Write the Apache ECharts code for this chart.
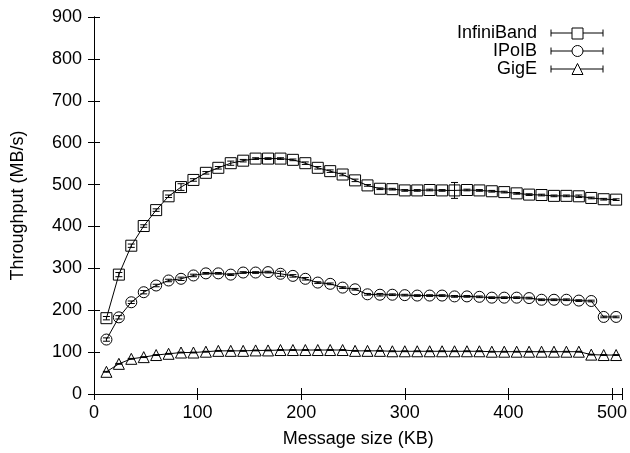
<!DOCTYPE html>
<html>
<head>
<meta charset="utf-8">
<script src="https://cdn.jsdelivr.net/npm/echarts@6/dist/echarts.min.js"></script>
<style>html,body{margin:0;padding:0;background:#fff}#c{width:630px;height:453px}</style>
</head>
<body>
<div id="c"></div>
<script>
var messageSizes = [12,24,36,48,60,72,84,96,108,120,132,144,156,168,180,192,204,216,228,240,252,264,276,288,300,312,324,336,348,360,372,384,396,408,420,432,444,456,468,480,492,504];
var infinibandValues = [181,285,354,401,439,472,494,511,528,540,551,557,562,562,562,559,551,540,532,524,510,498,490,489,486,486,487,486,486,487,486,484,482,479,476,475,473,473,472,468,465,464];
var infinibandErrors = [4,5,4,3,3,3,8,3,3,3,5,3,2,2,2,2,3,3,3,3,3,2,2,2,2,2,2,2,19,2,2,2,2,2,2,2,2,2,3,2,2,2];
var ipoibValues = [130,183,219,243,259,271,275,283,288,288,285,290,290,291,287,282,275,266,263,254,250,238,237,237,236,235,235,235,233,233,232,230,230,230,229,225,225,225,223,222,184,184];
var ipoibErrors = [4,4,3,4,3,3,4,3,2,2,2,2,2,2,6,3,3,2,2,2,2,2,3,2,2,2,2,2,2,2,2,2,2,2,2,2,2,2,2,2,2,2];
var gigeValues = [53,72,84,88,93,96,99,99,101,103,103,103,104,104,105,105,105,105,105,105,103,103,103,102,102,102,102,102,102,102,102,101,101,101,101,101,101,101,101,94,93,93];
var gigeErrors = [1,1,1,1,1,1,1,1,1,1,1,1,1,1,1,1,1,1,1,1,1,1,1,1,1,1,1,1,1,1,1,1,1,1,1,1,1,1,1,1,1,1];
var seriesNames = ['InfiniBand','IPoIB','GigE'];
var xTicks = [0,100,200,300,400,500];

var FONT = 'Liberation Sans';
var chart = echarts.init(document.getElementById('c'), null, {renderer:'canvas'});

function pairs(vals){ return messageSizes.map(function(x,i){return [x, vals[i]];}); }
function errData(vals, errs){ return messageSizes.map(function(x,i){return [x, vals[i]-errs[i], vals[i]+errs[i]];}); }

function errRender(params, api){
  var x = api.value(0);
  var lo = api.coord([x, api.value(1)]);
  var hi = api.coord([x, api.value(2)]);
  var hw = 3.5;
  var st = {stroke:'#000', lineWidth:1};
  return {type:'group', children:[
    {type:'line', shape:{x1:lo[0], y1:lo[1], x2:hi[0], y2:hi[1]}, style:st},
    {type:'line', shape:{x1:lo[0]-hw, y1:lo[1], x2:lo[0]+hw, y2:lo[1]}, style:st},
    {type:'line', shape:{x1:hi[0]-hw, y1:hi[1], x2:hi[0]+hw, y2:hi[1]}, style:st}
  ]};
}

function lineSeries(name, vals, sym, size){
  return {
    name:name, type:'line', data:pairs(vals), xAxisIndex:0, yAxisIndex:0,
    symbol:sym, symbolSize:size, showSymbol:true,
    lineStyle:{color:'#000', width:1},
    itemStyle:{color:'rgba(0,0,0,0)', borderColor:'#000', borderWidth:1},
    emphasis:{disabled:true}, animation:false, z:3
  };
}
function errSeries(vals, errs){
  return {type:'custom', data:errData(vals, errs), renderItem:errRender, xAxisIndex:0, yAxisIndex:0,
    encode:{x:0, y:[1,2]}, animation:false, z:4, silent:true};
}

var tickText = {fontFamily:FONT, fontSize:18, color:'#000'};
var axLine = {lineStyle:{color:'#000', width:1}};

// Legend samples (graphic)
var legendRows = [{y:33, sym:'rect'},{y:51, sym:'circle'},{y:69, sym:'triangle'}];
var graphics = [];
legendRows.forEach(function(r, i){
  graphics.push({type:'text', x:537, y:r.y, style:{text:seriesNames[i], font:'18px "'+FONT+'"', fill:'#000', textAlign:'right', textVerticalAlign:'middle'}});
  graphics.push({type:'line', shape:{x1:551, y1:r.y, x2:603, y2:r.y}, style:{stroke:'#000', lineWidth:1}});
  graphics.push({type:'line', shape:{x1:551, y1:r.y-3.5, x2:551, y2:r.y+3.5}, style:{stroke:'#000', lineWidth:1}});
  graphics.push({type:'line', shape:{x1:603, y1:r.y-3.5, x2:603, y2:r.y+3.5}, style:{stroke:'#000', lineWidth:1}});
  if (r.sym === 'rect') graphics.push({type:'rect', shape:{x:572, y:r.y-5, width:11, height:11}, style:{fill:'#fff', stroke:'#000', lineWidth:1}});
  if (r.sym === 'circle') graphics.push({type:'circle', shape:{cx:577.5, cy:r.y, r:5.5}, style:{fill:'#fff', stroke:'#000', lineWidth:1}});
  if (r.sym === 'triangle') graphics.push({type:'polygon', shape:{points:[[577.5,r.y-5.5],[583,r.y+5.5],[572,r.y+5.5]]}, style:{fill:'#fff', stroke:'#000', lineWidth:1}});
});

chart.setOption({
  backgroundColor:'#fff',
  animation:false,
  grid:{left:94, top:17, width:530, height:382, show:false},
  xAxis:[
    {type:'value', min:0, max:510, interval:100, position:'bottom',
     axisLine:axLine, axisTick:{inside:true, length:6, lineStyle:{color:'#000'}},
     axisLabel:Object.assign({margin:10, formatter:function(v){return xTicks.indexOf(v)>=0 ? String(v) : '';}}, tickText),
     splitLine:{show:false},
     name:'Message size (KB)', nameLocation:'middle', nameGap:36, nameTextStyle:{fontFamily:FONT, fontSize:18, color:'#000'}},
    {type:'value', min:0, max:510, interval:100, position:'top',
     axisLine:axLine, axisTick:{inside:true, length:6, lineStyle:{color:'#000'}},
     axisLabel:{show:false}, splitLine:{show:false}}
  ],
  yAxis:[
    {type:'value', min:0, max:900, interval:100, position:'left',
     axisLine:axLine, axisTick:{inside:true, length:6, lineStyle:{color:'#000'}},
     axisLabel:Object.assign({margin:12}, tickText), splitLine:{show:false},
     name:'Throughput (MB/s)', nameLocation:'middle', nameGap:67, nameTextStyle:{fontFamily:FONT, fontSize:18, color:'#000'}},
    {type:'value', min:0, max:900, interval:100, position:'right',
     axisLine:axLine, axisTick:{inside:true, length:6, lineStyle:{color:'#000'}},
     axisLabel:{show:false}, splitLine:{show:false}}
  ],
  series:[
    lineSeries(seriesNames[0], infinibandValues, 'rect', 11),
    errSeries(infinibandValues, infinibandErrors),
    lineSeries(seriesNames[1], ipoibValues, 'circle', 11),
    errSeries(ipoibValues, ipoibErrors),
    lineSeries(seriesNames[2], gigeValues, 'triangle', 11),
    errSeries(gigeValues, gigeErrors)
  ],
  graphic:graphics
});
</script>
</body>
</html>
